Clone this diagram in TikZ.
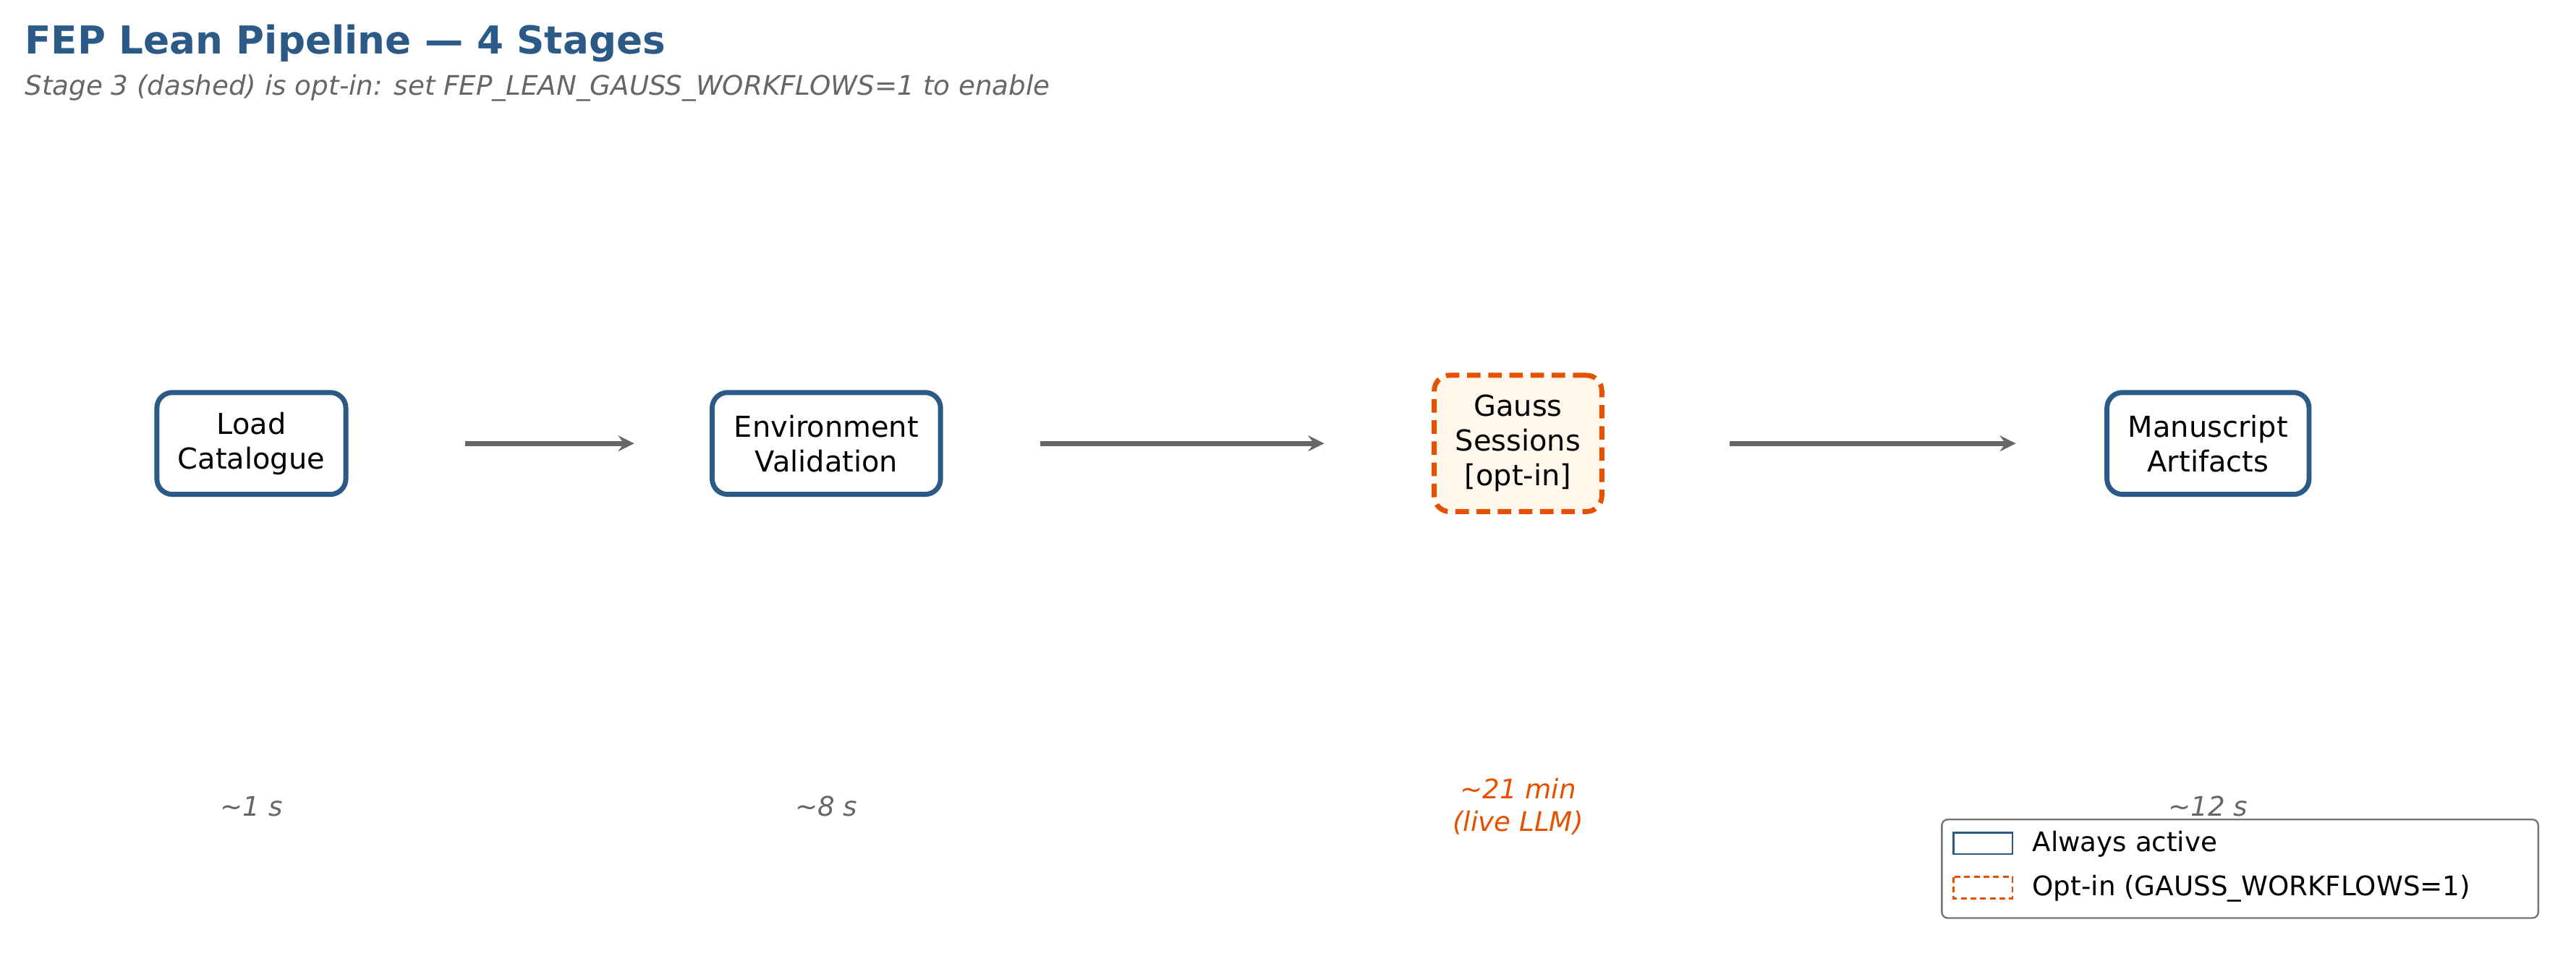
\documentclass[tikz,border=0pt]{standalone}
\usepackage{fontspec}
\setmainfont{DejaVu Sans}
\usetikzlibrary{positioning}
\definecolor{stageblue}{HTML}{2A5A85}
\definecolor{optorange}{HTML}{E65100}
\definecolor{optfill}{HTML}{FFF6EC}
\definecolor{flowgray}{HTML}{666666}

\begin{document}
\begin{tikzpicture}[x=0.03cm,y=-0.03cm]
	\tikzset{%
		stage/.style={draw=stageblue,line width=2.6pt,rounded corners=8pt,fill=white,align=center,font=\fontsize{15}{18}\selectfont,inner sep=0pt},
		optstage/.style={stage,draw=optorange,fill=optfill,dash pattern=on 7pt off 4pt},
		flow/.style={-stealth,flowgray,line width=2.6pt},
		timing/.style={flowgray,font=\fontsize{14}{17}\selectfont\itshape,align=center},
	}
	\useasboundingbox (0,0) rectangle (1568,582);

	% title
	\node[anchor=base west,text=stageblue,font=\fontsize{20}{24}\selectfont\bfseries] (title) at (11,33) {FEP Lean Pipeline — 4 Stages};
	\node[anchor=base west,text=flowgray,font=\fontsize{14}{17}\selectfont\itshape] (subtitle) at (11,58) {Stage 3 (dashed) is opt-in: set FEP\_LEAN\_GAUSS\_WORKFLOWS=1 to enable};

	% stages
	\node[stage,minimum width=115*0.03cm,minimum height=62*0.03cm] (load) at (153,270) {Load\\Catalogue};
	\node[stage,minimum width=139*0.03cm,minimum height=62*0.03cm] (env) at (503,270) {Environment\\Validation};
	\node[optstage,minimum width=102*0.03cm,minimum height=83*0.03cm] (gauss) at (924,270) {Gauss\\Sessions\\{[opt-in]}};
	\node[stage,minimum width=123*0.03cm,minimum height=62*0.03cm] (manu) at (1344,270) {Manuscript\\Artifacts};

	% arrows
	\coordinate (a1) at (283,270); \coordinate (b1) at (386,270);
	\coordinate (a2) at (633,270); \coordinate (b2) at (806,270);
	\coordinate (a3) at (1053,270); \coordinate (b3) at (1227,270);
	\draw[flow] (a1) -- (b1);
	\draw[flow] (a2) -- (b2);
	\draw[flow] (a3) -- (b3);

	% timings
	\node[timing] (t1) at (153,491) {\textasciitilde1 s};
	\node[timing] (t2) at (503,491) {\textasciitilde8 s};
	\node[timing,text=optorange] (t3) at (924,491) {\textasciitilde21 min\\(live LLM)};
	\node[timing] (t4) at (1344,491) {\textasciitilde12 s};

	% legend
	\draw[flowgray!90,line width=0.9pt,rounded corners=3pt,fill=white] (1182,499) rectangle (1545,559);
	\draw[stageblue,line width=1pt] (1189,507) rectangle (1225,520);
	\draw[optorange,line width=1pt,dash pattern=on 3pt off 2pt] (1189,534) rectangle (1225,547);
	\node[anchor=west,font=\fontsize{14}{17}\selectfont] (lg1) at (1233,514) {Always active};
	\node[anchor=west,font=\fontsize{14}{17}\selectfont] (lg2) at (1233,541) {Opt-in (GAUSS\_WORKFLOWS=1)};
\end{tikzpicture}
\end{document}
